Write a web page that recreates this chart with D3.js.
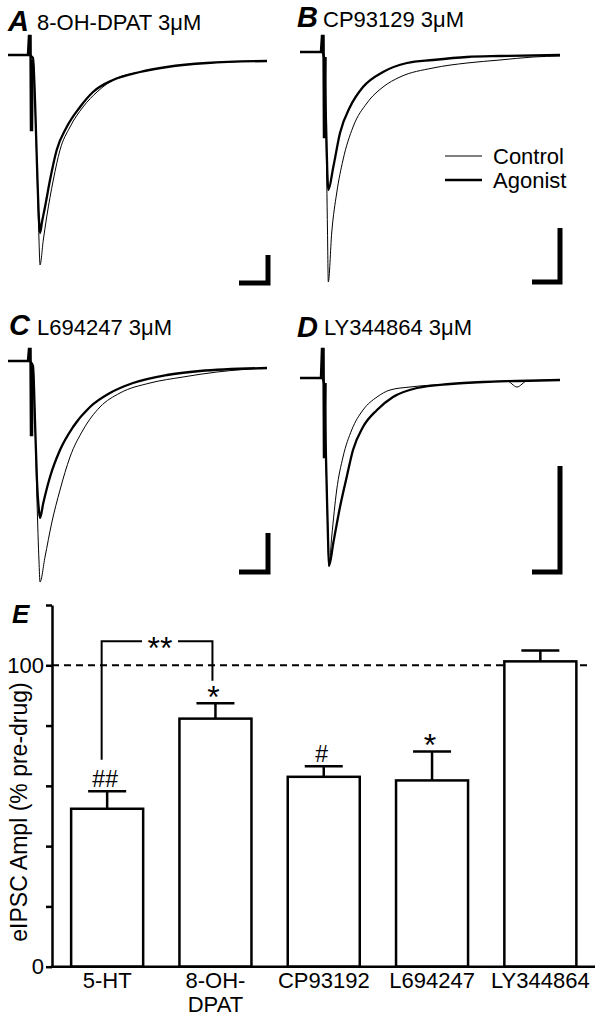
<!DOCTYPE html>
<html>
<head>
<meta charset="utf-8">
<script src="https://cdn.jsdelivr.net/npm/d3@7"></script>
<style>
  body { margin: 0; background: #fff; }
  svg { display: block; }
  text { font-family: 'Liberation Sans', Arial, Helvetica, sans-serif; fill: #000; }
</style>
</head>
<body>
<div id="chart"></div>
<script>
// ---- trace data: [time (ms), current (pA, inward negative)] ----
const ctrlA = [[0,0],[21,0],[25,-3],[27,-45],[29,-115],[31,-185],[32,-210],[35.3,-185],[38.7,-162],[45.3,-125],[52,-95],[62,-72],[75,-52],[89,-37],[105,-25],[132,-17],[159,-12],[199,-8],[259,-6]];
const agoA  = [[0,0],[21,0],[25,-3],[27,-45],[29,-110],[31,-165],[32,-178],[34,-167],[37,-152],[42,-125],[48.7,-95],[58.7,-72],[72,-52],[85,-37],[105,-25],[132,-17],[159,-12],[199,-8],[259,-6]];
const artA  = [[20,0],[21,19],[22.5,19],[23,-75],[24,-75],[24.5,-5]];

const ctrlB = [[0,0],[22,0],[24,-5],[26,-80],[27.5,-180],[28.3,-230],[31.7,-181],[36.7,-141],[43,-108],[53,-75],[67,-51],[83,-35],[100,-25],[133,-16],[167,-11],[200,-8],[233,-5],[260,-4]];
const agoB  = [[0,0],[22,0],[24,-5],[26,-70],[27.5,-125],[28.3,-138],[33.3,-115],[40,-81],[50,-55],[63,-35],[83,-20],[107,-11],[133,-8],[167,-5],[200,-4],[260,-3]];
const artB  = [[21,0],[22,16],[23.5,16],[24,-85],[25,-85],[25.5,-5]];

const ctrlC = [[0,0],[21,0],[25,-5],[27,-60],[29,-140],[31,-200],[32,-221],[37,-196],[43.7,-162],[52,-129],[62,-96],[75,-69],[92,-46],[112,-32],[142,-22],[175,-16],[209,-11],[259,-7]];
const agoC  = [[0,0],[21,0],[25,-5],[27,-60],[29,-120],[31,-150],[32,-157],[35.3,-142],[42,-116],[52,-89],[65,-66],[82,-46],[102,-32],[125,-22],[159,-14],[192,-10],[259,-7]];
const artC  = [[20,0],[21,12],[22.5,12],[23,-74],[24,-74],[24.5,-5]];

const ctrlD = [[0,0],[22,0],[24,-5],[26,-80],[28,-160],[29,-188],[31.7,-159],[36.7,-112],[43,-79],[51.7,-52],[63,-32],[77,-19],[90,-12],[110,-9],[150,-6],[183,-4],[207,-3],[217,-9],[227,-3],[260,-2]];
const agoD  = [[0,0],[22,0],[24,-5],[26,-80],[28,-160],[29,-188],[33.3,-165],[40,-129],[46.7,-99],[53,-72],[63,-49],[77,-32],[93,-19],[117,-10],[150,-6],[183,-4],[217,-3],[260,-2]];
const artD  = [[21,0],[22,29],[23.5,29],[24,-79],[25,-79],[25.5,-5]];

// calibration bars [ms, pA]
const scaleBarA = [29, 28];
const scaleBarB = [28, 54];
const scaleBarC = [29, 39];
const scaleBarD = [28, 106];

const panelLetters = ["A", "B", "C", "D"];
const panelDrugs = ["8-OH-DPAT 3μM", "CP93129 3μM", "L694247 3μM", "LY344864 3μM"];
const legendNames = ["Control", "Agonist"];

// ---- bar chart data ----
const categories = ["5-HT", "8-OH-DPAT", "CP93192", "L694247", "LY344864"];
const categoryLines = [["5-HT"], ["8-OH-", "DPAT"], ["CP93192"], ["L694247"], ["LY344864"]];
const meanValues = [52.4, 82.3, 63.0, 61.8, 101.3];
const semValues = [5.8, 5.1, 3.5, 9.6, 3.6];
const sigMarks = ["##", "*", "#", "*", ""];
const yTicks = [0, 20, 40, 60, 80, 100, 120];
const yTickLabels = {0: "0", 100: "100"};

const W = 600, H = 1019;
const svg = d3.select("#chart").append("svg").attr("width", W).attr("height", H);

// ---------- traces ----------
const panels = [
  {ctrl: ctrlA, ago: agoA, art: artA, bar: scaleBarA, x0: 8,   yBase: 55,  barBottom: -228, lx: 8,   ly: 31,  tx: 37,  ty: 30},
  {ctrl: ctrlB, ago: agoB, art: artB, bar: scaleBarB, x0: 300, yBase: 52,  barBottom: -230, lx: 297, ly: 27,  tx: 323, ty: 27},
  {ctrl: ctrlC, ago: agoC, art: artC, bar: scaleBarC, x0: 8,   yBase: 361, barBottom: -211, lx: 9,   ly: 335, tx: 37,  ty: 335},
  {ctrl: ctrlD, ago: agoD, art: artD, bar: scaleBarD, x0: 300, yBase: 378, barBottom: -194, lx: 297, ly: 337, tx: 324, ty: 335}
];

panels.forEach(function(p, idx) {
  const g = svg.append("g");
  const x = d3.scaleLinear().domain([0, 260]).range([p.x0, p.x0 + 260]);
  const y = d3.scaleLinear().domain([0, -100]).range([p.yBase, p.yBase + 100]);

  const smooth = d3.line().x(d => x(d[0])).y(d => y(d[1])).curve(d3.curveMonotoneX);
  const straight = d3.line().x(d => x(d[0])).y(d => y(d[1]));

  g.append("path").attr("d", smooth(p.ctrl))
    .attr("fill", "none").attr("stroke", "#000").attr("stroke-width", 1);
  g.append("path").attr("d", smooth(p.ago))
    .attr("fill", "none").attr("stroke", "#000").attr("stroke-width", 2.3)
    .attr("stroke-linejoin", "round");
  g.append("path").attr("d", straight(p.art))
    .attr("fill", "none").attr("stroke", "#000").attr("stroke-width", 2.5);

  // calibration bar
  const bx = x(260), byBot = y(p.barBottom);
  g.append("path")
    .attr("d", "M" + bx + "," + y(p.barBottom + p.bar[1]) + "V" + byBot + "H" + x(260 - p.bar[0]))
    .attr("fill", "none").attr("stroke", "#000").attr("stroke-width", 5)
    .attr("stroke-linejoin", "miter");

  g.append("text").attr("x", p.lx).attr("y", p.ly)
    .attr("font-size", 29).attr("font-weight", "bold").attr("font-style", "italic")
    .text(panelLetters[idx]);
  g.append("text").attr("x", p.tx).attr("y", p.ty)
    .attr("font-size", 22).text(panelDrugs[idx]);
});

// legend (panel B)
const legend = svg.append("g");
legendNames.forEach(function(name, i) {
  const ly = 156 + i * 24;
  legend.append("line").attr("x1", 445).attr("x2", 482).attr("y1", ly).attr("y2", ly)
    .attr("stroke", "#000").attr("stroke-width", i === 0 ? 1 : 2.3);
  legend.append("text").attr("x", 493).attr("y", ly + 7.5).attr("font-size", 22).text(name);
});

// ---------- bar chart ----------
const yB = d3.scaleLinear().domain([0, 120]).range([966.7, 605]);
const xB = d3.scaleBand().domain(categories).range([53, 594.5])
  .paddingInner(0.335).paddingOuter(0.1675);
const bw = xB.bandwidth();
const cx = c => xB(c) + bw / 2;

const gB = svg.append("g");

// dashed 100% line
gB.append("line").attr("x1", 52).attr("x2", 592).attr("y1", yB(100)).attr("y2", yB(100))
  .attr("stroke", "#000").attr("stroke-width", 2).attr("stroke-dasharray", "7,5");

// error bars
categories.forEach(function(c, i) {
  const top = yB(meanValues[i] + semValues[i]);
  gB.append("line").attr("x1", cx(c)).attr("x2", cx(c))
    .attr("y1", yB(meanValues[i])).attr("y2", top)
    .attr("stroke", "#000").attr("stroke-width", 2.5);
  gB.append("line").attr("x1", cx(c) - 19).attr("x2", cx(c) + 19)
    .attr("y1", top).attr("y2", top)
    .attr("stroke", "#000").attr("stroke-width", 2.5);
});

// bars
gB.selectAll("rect.bar").data(categories).enter().append("rect")
  .attr("class", "bar")
  .attr("x", d => xB(d))
  .attr("y", (d, i) => yB(meanValues[i]))
  .attr("width", bw)
  .attr("height", (d, i) => yB(0) - yB(meanValues[i]))
  .attr("fill", "#fff").attr("stroke", "#000").attr("stroke-width", 2.5);

// significance marks
categories.forEach(function(c, i) {
  const m = sigMarks[i];
  if (!m) return;
  const top = yB(meanValues[i] + semValues[i]);
  const isStar = m.indexOf("*") >= 0;
  gB.append("text").attr("x", cx(c) - 2)
    .attr("y", isStar ? top + 5 : top - 4)
    .attr("text-anchor", "middle")
    .attr("font-size", isStar ? 32 : 23)
    .text(m);
});

// bracket between 5-HT and 8-OH-DPAT
const bl = cx(categories[0]) - 5.5, br = cx(categories[1]) - 3;
const bTop = yB(108);
gB.append("path")
  .attr("d", "M" + bl + "," + yB(68.7) + "V" + bTop + "H142" + "M178," + bTop + "H" + br + "V" + yB(94.9))
  .attr("fill", "none").attr("stroke", "#000").attr("stroke-width", 2);
gB.append("text").attr("x", 160).attr("y", bTop + 18)
  .attr("text-anchor", "middle").attr("font-size", 32).text("**");

// axes
const yAxis = d3.axisLeft(yB).tickValues(yTicks).tickSize(6).tickSizeOuter(0).tickPadding(2)
  .tickFormat(d => yTickLabels[d] || "");
const ya = gB.append("g").attr("transform", "translate(52,0)").call(yAxis);
ya.select(".domain").attr("stroke-width", 2.5);
ya.selectAll(".tick line").attr("stroke-width", 2.5);
ya.selectAll(".tick text").attr("font-size", 22).attr("font-family", null);

gB.append("line").attr("x1", 51).attr("x2", 595).attr("y1", yB(0)).attr("y2", yB(0))
  .attr("stroke", "#000").attr("stroke-width", 2.5);

categories.forEach(function(c, i) {
  categoryLines[i].forEach(function(line, j) {
    gB.append("text").attr("x", cx(c)).attr("y", 988 + j * 24)
      .attr("text-anchor", "middle").attr("font-size", 22).text(line);
  });
});

gB.append("text").attr("transform", "translate(27,812) rotate(-90)")
  .attr("text-anchor", "middle").attr("font-size", 23).text("eIPSC Ampl (% pre-drug)");

gB.append("text").attr("x", 12).attr("y", 623)
  .attr("font-size", 26).attr("font-weight", "bold").attr("font-style", "italic").text("E");
</script>
</body>
</html>
